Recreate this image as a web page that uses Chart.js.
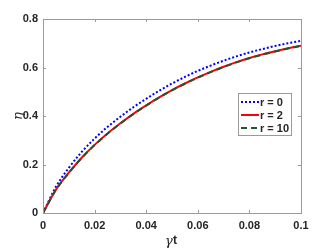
<!DOCTYPE html>
<html>
<head>
<meta charset="utf-8">
<script src="https://cdn.jsdelivr.net/npm/chart.js@4.4.1/dist/chart.umd.min.js"></script>
<style>
  html, body { margin: 0; padding: 0; background: #fff; }
  #wrap { width: 332px; height: 249px; }
</style>
</head>
<body>
<div id="wrap"><canvas id="chart" width="332" height="249"></canvas></div>
<script>
const times = [0, 0.005, 0.01, 0.015, 0.02, 0.025, 0.03, 0.035, 0.04, 0.045, 0.05,
  0.055, 0.06, 0.065, 0.07, 0.075, 0.08, 0.085, 0.09, 0.095, 0.1]
const etaR0 = [0, 0.108, 0.186, 0.252, 0.307, 0.355, 0.397, 0.436, 0.471, 0.504, 0.534,
  0.561, 0.586, 0.608, 0.628, 0.646, 0.662, 0.676, 0.689, 0.700, 0.710]
const etaR2 = [0, 0.096, 0.166, 0.228, 0.281, 0.328, 0.370, 0.409, 0.444, 0.477, 0.507,
  0.534, 0.559, 0.582, 0.603, 0.622, 0.639, 0.654, 0.667, 0.679, 0.690]
const etaR10 = [0, 0.095, 0.165, 0.227, 0.280, 0.327, 0.369, 0.408, 0.443, 0.476, 0.506,
  0.533, 0.558, 0.581, 0.602, 0.621, 0.638, 0.653, 0.666, 0.678, 0.689]
const xTicks = [0, 0.02, 0.04, 0.06, 0.08, 0.1]
const yTicks = [0, 0.2, 0.4, 0.6, 0.8]
const seriesLabels = ["r = 0", "r = 2", "r = 10"]

const toPoints = (ys) => times.map((t, i) => ({ x: t, y: ys[i] }))
const fmt = (v) => String(Math.round(v * 100) / 100)

const axisColor = "#9a9a9a"
const textColor = "#262626"
const tickFont = { family: "'Liberation Sans', Arial, sans-serif", size: 11, weight: "bold" }

// box, inner ticks, axis titles and legend
const matlabAxes = {
  id: "matlabAxes",
  afterDraw(chart) {
    const { ctx, chartArea: a, scales } = chart
    ctx.save()
    ctx.strokeStyle = axisColor
    ctx.lineWidth = 1
    ctx.strokeRect(a.left + 0.5, a.top + 0.5, a.right - a.left, a.bottom - a.top)
    ctx.beginPath()
    xTicks.forEach((v) => {
      const px = Math.round(scales.x.getPixelForValue(v)) + 0.5
      ctx.moveTo(px, a.bottom); ctx.lineTo(px, a.bottom - 3)
      ctx.moveTo(px, a.top); ctx.lineTo(px, a.top + 3)
    })
    yTicks.forEach((v) => {
      const py = Math.round(scales.y.getPixelForValue(v)) + 0.5
      ctx.moveTo(a.left, py); ctx.lineTo(a.left + 3, py)
      ctx.moveTo(a.right, py); ctx.lineTo(a.right - 3, py)
    })
    ctx.stroke()

    // axis titles
    ctx.fillStyle = textColor
    ctx.textBaseline = "middle"
    ctx.font = "italic 13px 'DejaVu Serif', serif"
    const gw = ctx.measureText("γ").width
    ctx.font = "bold 12px 'Liberation Sans', Arial, sans-serif"
    const tw = ctx.measureText("t").width
    const cx = (a.left + a.right) / 2 - 1
    const sx = cx - (gw + tw) / 2
    ctx.textAlign = "left"
    ctx.font = "italic 13px 'DejaVu Serif', serif"
    ctx.fillText("γ", sx, 242)
    ctx.font = "bold 12px 'Liberation Sans', Arial, sans-serif"
    ctx.fillText("t", sx + gw, 241)

    ctx.save()
    ctx.translate(19, (a.top + a.bottom) / 2)
    ctx.rotate(-Math.PI / 2)
    ctx.textAlign = "center"
    ctx.font = "italic 13px 'DejaVu Serif', serif"
    ctx.fillText("η", 0, 0)
    ctx.restore()

    // legend
    const lx = 238, ly = 93, lw = 53, lh = 42
    ctx.fillStyle = "#fff"
    ctx.fillRect(lx, ly, lw, lh)
    ctx.strokeStyle = axisColor
    ctx.strokeRect(lx + 0.5, ly + 0.5, lw, lh)
    chart.data.datasets.forEach((ds, i) => {
      const y = ly + 9 + i * 13
      ctx.strokeStyle = ds.borderColor
      ctx.lineWidth = 2
      ctx.setLineDash(ds.borderDash || [])
      ctx.beginPath()
      ctx.moveTo(lx + 3, y); ctx.lineTo(lx + 21, y)
      ctx.stroke()
      ctx.setLineDash([])
      ctx.fillStyle = textColor
      ctx.textAlign = "left"
      ctx.textBaseline = "middle"
      ctx.font = "bold 11px 'Liberation Sans', Arial, sans-serif"
      ctx.fillText(ds.label, lx + 22, y + 0.5)
    })
    ctx.restore()
  },
}

new Chart(document.getElementById("chart"), {
  type: "line",
  data: {
    datasets: [
      { label: seriesLabels[0], data: toPoints(etaR0), borderColor: "#0000ff", borderWidth: 2, borderDash: [2, 2], order: 3 },
      { label: seriesLabels[1], data: toPoints(etaR2), borderColor: "#ff0000", borderWidth: 2, order: 2 },
      { label: seriesLabels[2], data: toPoints(etaR10), borderColor: "#1f5530", borderWidth: 2, borderDash: [6, 4], order: 1 },
    ],
  },
  options: {
    responsive: false,
    animation: false,
    parsing: false,
    elements: { point: { radius: 0 }, line: { tension: 0.4, cubicInterpolationMode: "monotone" } },
    layout: { padding: { top: 19, right: 31, left: 0, bottom: 0 } },
    plugins: { legend: { display: false }, tooltip: { enabled: false } },
    scales: {
      x: {
        type: "linear",
        min: 0,
        max: 0.1,
        afterBuildTicks: (s) => { s.ticks = xTicks.map((v) => ({ value: v })) },
        afterFit: (s) => { s.height = 36 },
        grid: { display: false, drawTicks: false },
        border: { display: false },
        ticks: { color: textColor, font: tickFont, padding: 6, maxRotation: 0, autoSkip: false, callback: (v) => fmt(v) },
      },
      y: {
        type: "linear",
        min: 0,
        max: 0.8,
        afterBuildTicks: (s) => { s.ticks = yTicks.map((v) => ({ value: v })) },
        afterFit: (s) => { s.width = 43 },
        grid: { display: false, drawTicks: false },
        border: { display: false },
        ticks: { color: textColor, font: tickFont, padding: 5, autoSkip: false, callback: (v) => fmt(v) },
      },
    },
  },
  plugins: [matlabAxes],
})
</script>
</body>
</html>
